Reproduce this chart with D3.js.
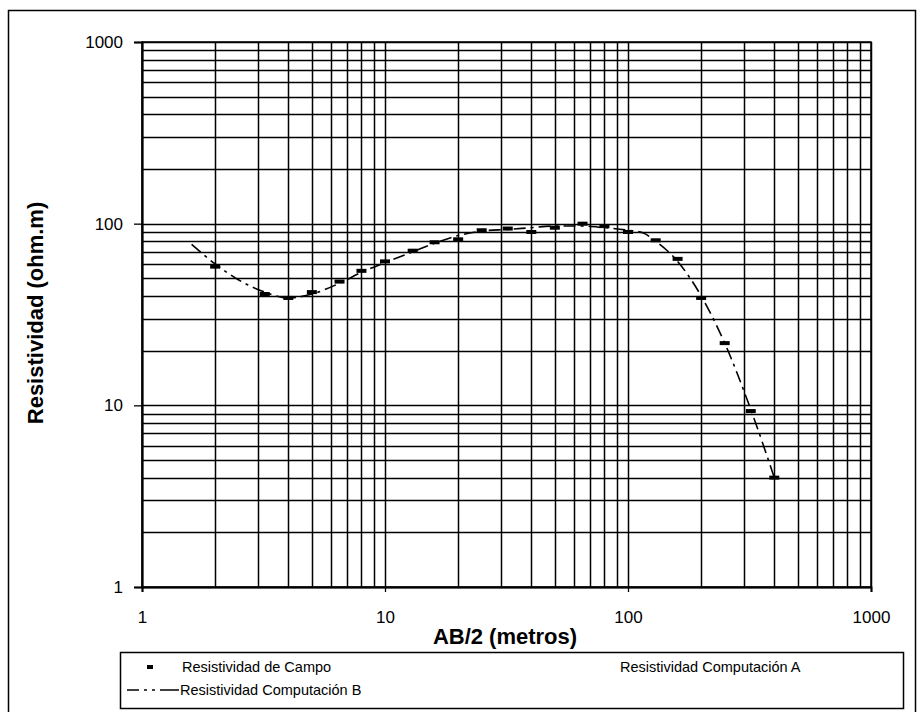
<!DOCTYPE html>
<html>
<head>
<meta charset="utf-8">
<script src="https://cdn.jsdelivr.net/npm/d3@7"></script>
<style>
  html, body { margin: 0; padding: 0; background: #fff; }
  svg { display: block; font-family: "Liberation Sans", Arial, sans-serif; }
</style>
</head>
<body>
<svg id="chart" width="918" height="712"></svg>
<script>
// ---- data ----
const xTickLabels = ["1", "10", "100", "1000"];
const yTickLabels = ["1", "10", "100", "1000"];
const xTickValues = [1, 10, 100, 1000];
const yTickValues = [1, 10, 100, 1000];

// Resistividad de Campo (field measurements)
const campoAB = [2, 3.2, 4, 5, 6.5, 8, 10, 13, 16, 20, 25, 32, 40, 50, 65, 80, 100, 130, 160, 200, 250, 320, 400];
const campoRho = [58, 41, 39, 42, 48, 55, 62, 71, 79, 82, 92, 94, 90, 95, 100, 97, 90, 81, 64, 39, 22, 9.3, 4.0];

// Resistividad Computación B (model curve)
const compBAB = [1.6, 2, 2.5, 3.2, 4, 5, 6.5, 8, 10, 13, 16, 20, 25, 32, 40, 50, 65, 80, 100, 115, 130, 160, 200, 250, 320, 400];
const compBRho = [77, 60, 49, 42, 39, 41, 47, 54, 61, 70, 78, 86, 91, 93, 95, 97, 97, 95, 92, 89, 80, 62, 40, 22, 9.5, 4.0];

// Resistividad Computación A (not visible in the chart)
const compAAB = [];
const compARho = [];

const legendLabels = ["Resistividad de Campo", "Resistividad Computación A", "Resistividad Computación B"];

// ---- layout ----
const svg = d3.select("#chart");
const plot = { left: 142, right: 871, top: 42, bottom: 587 };

const x = d3.scaleLog().domain([1, 1000]).range([plot.left, plot.right]);
const y = d3.scaleLog().domain([1, 1000]).range([plot.bottom, plot.top]);

// outer frame
svg.append("rect")
  .attr("x", 8.5).attr("y", 10.5).attr("width", 907).attr("height", 710)
  .attr("fill", "none").attr("stroke", "#000").attr("stroke-width", 1.5);

// grid values
const gridVals = [];
for (let k = 0; k < 3; k++) for (let m = 1; m <= 9; m++) gridVals.push(m * Math.pow(10, k));
gridVals.push(1000);

const grid = svg.append("g");
grid.selectAll("line.v").data(gridVals).join("line")
  .attr("class", "v")
  .attr("x1", d => Math.round(x(d)) + 0.5).attr("x2", d => Math.round(x(d)) + 0.5)
  .attr("y1", plot.top).attr("y2", plot.bottom)
  .attr("stroke", "#000").attr("stroke-width", 1.5);
grid.selectAll("line.h").data(gridVals).join("line")
  .attr("class", "h")
  .attr("y1", d => Math.round(y(d)) + 0.5).attr("y2", d => Math.round(y(d)) + 0.5)
  .attr("x1", plot.left).attr("x2", plot.right)
  .attr("stroke", "#000").attr("stroke-width", 1.5);

// axes
const xAxis = d3.axisBottom(x).tickValues(xTickValues).tickFormat((d, i) => xTickLabels[i]).tickSize(5).tickPadding(19);
const yAxis = d3.axisLeft(y).tickValues(yTickValues).tickFormat((d, i) => yTickLabels[i]).tickSize(8).tickPadding(11);

const gx = svg.append("g").attr("transform", `translate(0,${plot.bottom})`).call(xAxis);
const gy = svg.append("g").attr("transform", `translate(${plot.left},0)`).call(yAxis);
[gx, gy].forEach(g => {
  g.select(".domain").attr("stroke", "#000").attr("stroke-width", 2);
  g.selectAll(".tick line").attr("stroke", "#000").attr("stroke-width", 1.3);
  g.selectAll(".tick text").attr("fill", "#000").style("font-size", "17px")
    .style("font-family", "'Liberation Sans', Arial, sans-serif");
});

// plot border
svg.append("rect")
  .attr("x", plot.left).attr("y", plot.top)
  .attr("width", plot.right - plot.left).attr("height", plot.bottom - plot.top)
  .attr("fill", "none").attr("stroke", "#000").attr("stroke-width", 1.5);

// Computación B line
const lineB = d3.line().x((d, i) => x(compBAB[i])).y(d => y(d)).curve(d3.curveMonotoneX);
svg.append("path")
  .datum(compBRho)
  .attr("d", lineB)
  .attr("fill", "none").attr("stroke", "#000").attr("stroke-width", 1.6)
  .attr("stroke-dasharray", "12,5,3,5");

// Campo markers (short thick dashes)
svg.selectAll("rect.campo").data(campoRho).join("rect")
  .attr("class", "campo")
  .attr("x", (d, i) => x(campoAB[i]) - 5)
  .attr("y", d => y(d) - 2)
  .attr("width", 10).attr("height", 4)
  .attr("fill", "#000");

// axis titles
svg.append("text")
  .attr("x", 505).attr("y", 644)
  .attr("text-anchor", "middle")
  .style("font-size", "22px").style("font-weight", "bold")
  .text("AB/2 (metros)");

svg.append("text")
  .attr("transform", "translate(43,313) rotate(-90)")
  .attr("text-anchor", "middle")
  .style("font-size", "22px").style("font-weight", "bold")
  .text("Resistividad (ohm.m)");

// legend
const lg = svg.append("g");
lg.append("rect")
  .attr("x", 120.5).attr("y", 652.5).attr("width", 783).attr("height", 56)
  .attr("fill", "#fff").attr("stroke", "#000").attr("stroke-width", 1.5);

lg.append("rect").attr("x", 147).attr("y", 665).attr("width", 6).attr("height", 4).attr("fill", "#000");
lg.append("text").attr("x", 182).attr("y", 672).style("font-size", "14.5px").text(legendLabels[0]);
lg.append("text").attr("x", 620).attr("y", 672).style("font-size", "14.5px").text(legendLabels[1]);
lg.append("line").attr("x1", 127).attr("x2", 179).attr("y1", 690).attr("y2", 690)
  .attr("stroke", "#000").attr("stroke-width", 1.6).attr("stroke-dasharray", "12,5,3,5,3,5,20");
lg.append("text").attr("x", 180).attr("y", 695).style("font-size", "14.5px").text(legendLabels[2]);
</script>
</body>
</html>
